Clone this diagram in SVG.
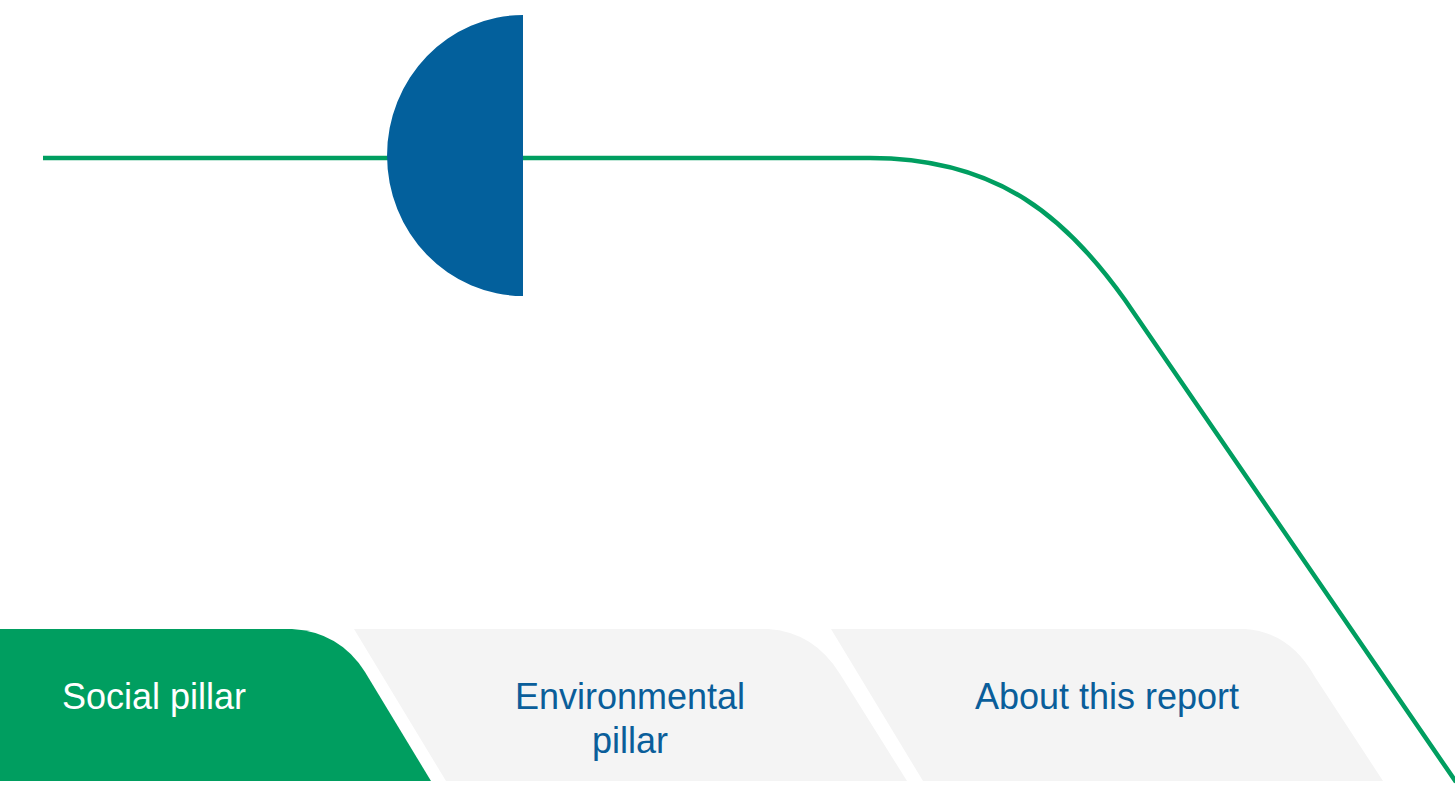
<svg xmlns="http://www.w3.org/2000/svg" width="1455" height="785" viewBox="0 0 1455 785">
<style>
.tab-active{fill:#009E60}
.tab{fill:#F4F4F4}
.lbl{font-family:"Liberation Sans","Open Sans",sans-serif;font-size:36px}
.lbl-active{fill:#FFFFFF}
.lbl-blue{fill:#0A5E9A}
.conn{fill:none;stroke:#009E60;stroke-width:4.5}
</style>
<rect width="1455" height="785" fill="#FFFFFF"/>
<g id="connectors">
<path class="conn" d="M43,158 L870,158 C1000,158 1068,220 1125,300 L1456,782"/>
</g>
<g id="semicircle">
<path d="M523,15 A136,140.5 0 0 0 523,296 Z" fill="#03609C"/>
</g>
<g id="tab-social">
<path class="tab-active" d="M0,629 L292,629 Q340,632 365,672 L431,781 L0,781 Z"/>
<text class="lbl lbl-active" x="62" y="709">Social pillar</text>
</g>
<g id="tab-environmental">
<path class="tab" d="M354,629 L768,629 Q814,632 840,674 L907,781 L446,781 Z"/>
<text class="lbl lbl-blue" x="630" y="709" text-anchor="middle">Environmental</text>
<text class="lbl lbl-blue" x="630" y="753" text-anchor="middle">pillar</text>
</g>
<g id="tab-about">
<path class="tab" d="M831,629 L1245,629 Q1290,632 1315,677 L1383,781 L923,781 Z"/>
<text class="lbl lbl-blue" x="1107" y="709" text-anchor="middle">About this report</text>
</g>
</svg>
